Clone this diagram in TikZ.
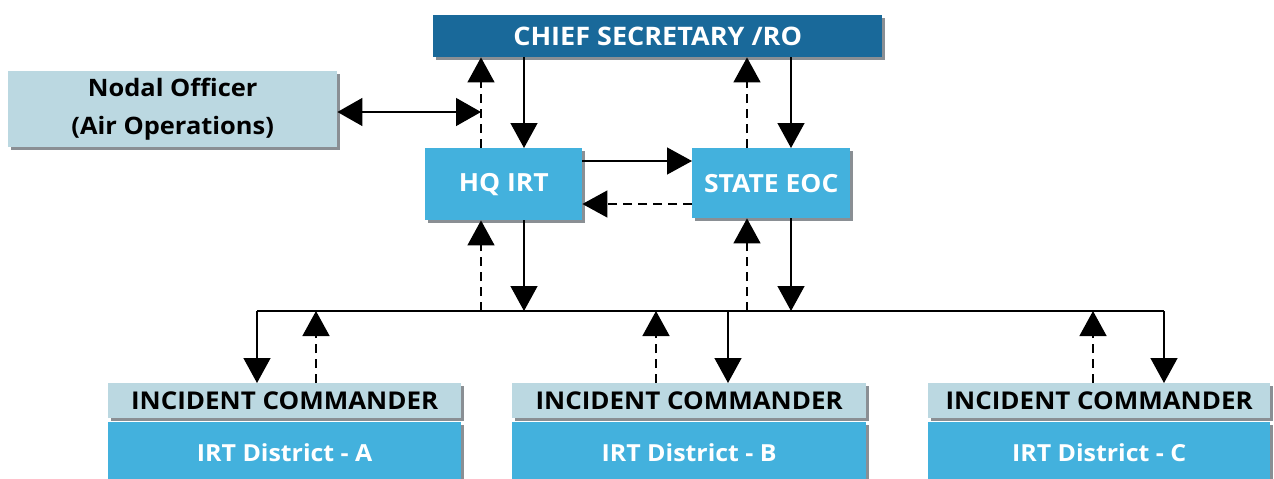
\documentclass[tikz,border=0pt]{standalone}
\usepackage{fontspec}
\setmainfont{Open Sans}[FakeStretch=1.06]
\usetikzlibrary{arrows.meta,shadows}
\definecolor{chiefc}{HTML}{19699A}
\definecolor{boxc}{HTML}{43B1DD}
\definecolor{lightc}{HTML}{BBD8E1}
\definecolor{shadc}{HTML}{8A8F94}
\tikzset{
  shad/.style={drop shadow={shadow xshift=3pt,shadow yshift=-3pt,fill=shadc,opacity=1}},
  boxbase/.style={anchor=north west,inner sep=0pt,align=center,font=\bfseries,shad},
  chiefbox/.style={boxbase,fill=chiefc,text=white,font=\bfseries\fontsize{25.5}{28}\selectfont},
  midbox/.style={boxbase,fill=boxc,text=white,font=\bfseries\fontsize{25}{28}\selectfont},
  lightbox/.style={boxbase,fill=lightc,text=black,font=\bfseries\fontsize{24}{38}\selectfont},
  hdrbox/.style={boxbase,fill=lightc,text=black,font=\bfseries\fontsize{24.5}{26}\selectfont},
  bodybox/.style={boxbase,fill=boxc,text=white,font=\bfseries\fontsize{23.5}{26}\selectfont},
  tip/.style={-{Triangle[length=25pt,width=27pt]}},
  solidln/.style={line width=1.4pt,tip},
  dashln/.style={line width=1.4pt,dash pattern=on 9pt off 6pt,tip},
}
\begin{document}
\begin{tikzpicture}[x=1pt,y=-1pt]
\useasboundingbox (0,0) rectangle (1274,479);
% boxes
\node[chiefbox,minimum width=449pt,minimum height=42pt] (chief) at (433,15) {CHIEF SECRETARY /RO};
\node[lightbox,minimum width=329pt,minimum height=76pt] (nodal) at (8,71) {Nodal Officer\\(Air Operations)};
\node[midbox,minimum width=157pt,minimum height=72pt] (hq) at (425,148) {HQ IRT};
\node[midbox,minimum width=158pt,minimum height=70pt] (eoc) at (692,148) {STATE EOC};
\node[hdrbox,minimum width=353pt,minimum height=35pt] (icA) at (108,383) {INCIDENT COMMANDER};
\node[bodybox,minimum width=353pt,minimum height=60pt] (irtA) at (108,422) {IRT District - A};
\node[hdrbox,minimum width=354pt,minimum height=35pt] (icB) at (512,383) {INCIDENT COMMANDER};
\node[bodybox,minimum width=354pt,minimum height=60pt] (irtB) at (512,422) {IRT District - B};
\node[hdrbox,minimum width=342pt,minimum height=35pt] (icC) at (928,383) {INCIDENT COMMANDER};
\node[bodybox,minimum width=342pt,minimum height=60pt] (irtC) at (928,422) {IRT District - C};
% reference coordinates
\coordinate (xh1) at (481,0);
\coordinate (xh2) at (524,0);
\coordinate (xe1) at (747,0);
\coordinate (xe2) at (791,0);
\coordinate (xa1) at (257,0);
\coordinate (xa2) at (316,0);
\coordinate (xb1) at (656,0);
\coordinate (xb2) at (728,0);
\coordinate (xc1) at (1093,0);
\coordinate (xc2) at (1164,0);
\coordinate (busL) at (257,311);
\coordinate (busR) at (1164,311);
\coordinate (dbl) at (481,112);
\coordinate (yh1) at (0,161);
\coordinate (yh2) at (0,204);
% top connectors
\draw[dashln] (hq.north -| xh1) -- (chief.south -| xh1);
\draw[solidln] (chief.south -| xh2) -- (hq.north -| xh2);
\draw[dashln] (eoc.north -| xe1) -- (chief.south -| xe1);
\draw[solidln] (chief.south -| xe2) -- (eoc.north -| xe2);
\draw[line width=1.4pt,{Triangle[length=25pt,width=28pt]}-{Triangle[length=25pt,width=28pt]}] (nodal.east |- dbl) -- (dbl);
\draw[solidln] (hq.east |- yh1) -- (eoc.west |- yh1);
\draw[dashln] (eoc.west |- yh2) -- (hq.east |- yh2);
% to bus
\draw[line width=1.4pt] (busL) -- (busR);
\draw[dashln] (busL -| xh1) -- (hq.south -| xh1);
\draw[solidln] (hq.south -| xh2) -- (busL -| xh2);
\draw[dashln] (busL -| xe1) -- (eoc.south -| xe1);
\draw[solidln] (eoc.south -| xe2) -- (busL -| xe2);
% to districts
\draw[solidln] (busL) -- (icA.north -| xa1);
\draw[dashln] (icA.north -| xa2) -- (busL -| xa2);
\draw[dashln] (icB.north -| xb1) -- (busL -| xb1);
\draw[solidln] (busL -| xb2) -- (icB.north -| xb2);
\draw[dashln] (icC.north -| xc1) -- (busL -| xc1);
\draw[solidln] (busR) -- (icC.north -| xc2);
\end{tikzpicture}
\end{document}
